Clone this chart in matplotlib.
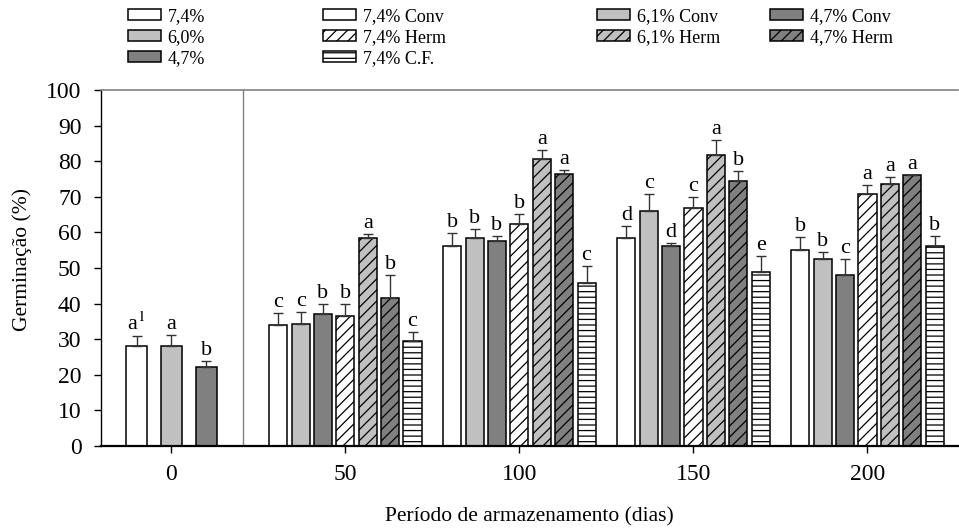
import matplotlib.pyplot as plt
import matplotlib.patches as mpatches
import numpy as np

plt.rcParams['font.family'] = ['Liberation Serif', 'DejaVu Serif']
plt.rcParams['mathtext.fontset'] = 'stix'
plt.rcParams['hatch.linewidth'] = 0.9

# Germinação no início do armazenamento (dia 0)
umid_0 = ['7,4%', '6,0%', '4,7%']
germ_0 = [28.2, 28.0, 22.1]
erro_0 = [2.6, 3.1, 1.8]
letras_0 = ['a$^{1}$', 'a', 'b']

# Períodos de armazenamento e tratamentos
dias = [50, 100, 150, 200]
tratamentos = ['7,4% Conv', '6,1% Conv', '4,7% Conv', '7,4% Herm',
               '6,1% Herm', '4,7% Herm', '7,4% C.F.']

germ_74_conv = [33.9, 56.1, 58.4, 55.1]
germ_61_conv = [34.2, 58.5, 66.1, 52.5]
germ_47_conv = [37.2, 57.5, 56.2, 48.1]
germ_74_herm = [36.4, 62.4, 66.9, 70.9]
germ_61_herm = [58.5, 80.5, 81.7, 73.6]
germ_47_herm = [41.6, 76.5, 74.5, 76.2]
germ_74_cf = [29.5, 45.9, 48.8, 56.1]

erro_74_conv = [3.4, 3.6, 3.3, 3.6]
erro_61_conv = [3.5, 2.5, 4.6, 2.0]
erro_47_conv = [2.6, 1.5, 0.9, 4.4]
erro_74_herm = [3.6, 2.8, 3.0, 2.4]
erro_61_herm = [1.1, 2.6, 4.2, 1.9]
erro_47_herm = [6.3, 1.1, 2.8, 0.0]
erro_74_cf = [2.4, 4.7, 4.5, 3.0]

letras_74_conv = ['c', 'b', 'd', 'b']
letras_61_conv = ['c', 'b', 'c', 'b']
letras_47_conv = ['b', 'b', 'd', 'c']
letras_74_herm = ['b', 'b', 'c', 'a']
letras_61_herm = ['a', 'a', 'a', 'a']
letras_47_herm = ['b', 'a', 'b', 'a']
letras_74_cf = ['c', 'c', 'e', 'b']

germ = [germ_74_conv, germ_61_conv, germ_47_conv, germ_74_herm,
        germ_61_herm, germ_47_herm, germ_74_cf]
erro = [erro_74_conv, erro_61_conv, erro_47_conv, erro_74_herm,
        erro_61_herm, erro_47_herm, erro_74_cf]
letras = [letras_74_conv, letras_61_conv, letras_47_conv, letras_74_herm,
          letras_61_herm, letras_47_herm, letras_74_cf]

# cor de preenchimento e hachura de cada tratamento
estilo = {
    '7,4%': ('white', ''),
    '6,0%': ('#c0c0c0', ''),
    '4,7%': ('#808080', ''),
    '7,4% Conv': ('white', ''),
    '6,1% Conv': ('#c0c0c0', ''),
    '4,7% Conv': ('#808080', ''),
    '7,4% Herm': ('white', '///'),
    '6,1% Herm': ('#c0c0c0', '///'),
    '4,7% Herm': ('#808080', '///'),
    '7,4% C.F.': ('white', '---'),
}

fig = plt.figure(figsize=(9.59, 5.29), dpi=100)
ax = fig.add_axes([101 / 959, 83 / 529, 857 / 959, 356 / 529])


def barras(x, y, e, rotulos, nome, largura):
    cor, hach = estilo[nome]
    x = np.asarray(x, dtype=float)
    y = np.asarray(y, dtype=float)
    e = np.asarray(e, dtype=float)
    ax.bar(x, y, largura, color=cor, edgecolor='black', linewidth=1.1,
           hatch=hach, zorder=2)
    ax.errorbar(x, y, yerr=[np.zeros_like(e), e], fmt='none', ecolor='#333333',
                elinewidth=1, capsize=3.5, capthick=1, zorder=3)
    for xi, yi, ei, r in zip(x, y, e, rotulos):
        ax.text(xi, yi + ei + 1.7, r, ha='center', va='baseline', fontsize=16,
                zorder=4)


# dia 0: três umidades
for i, nome in enumerate(umid_0):
    barras([(i - 1) * 10], [germ_0[i]], [erro_0[i]], [letras_0[i]], nome, 6)

# demais períodos: sete tratamentos por período
passo = 6.43
for i, nome in enumerate(tratamentos):
    xs = [d + (i - 3) * passo for d in dias]
    barras(xs, germ[i], erro[i], letras[i], nome, 5.2)

ax.axvline(20.5, color='#808080', linewidth=1, zorder=1)

ax.set_xlim(-20.2, 226)
ax.set_ylim(0, 100)
ax.set_xticks([0, 50, 100, 150, 200])
ax.set_yticks(np.arange(0, 101, 10))
ax.tick_params(axis='both', direction='out', length=5, width=1, labelsize=17)
ax.tick_params(axis='x', pad=8)
ax.tick_params(axis='y', pad=9)

ax.spines['right'].set_visible(False)
ax.spines['top'].set_color('#808080')
ax.spines['top'].set_linewidth(1.2)
ax.spines['left'].set_linewidth(1)
ax.spines['bottom'].set_linewidth(1.6)

ax.set_ylabel('Germinação (%)', fontsize=15.5, va='center')
ax.yaxis.set_label_coords(-0.092, 0.525)
ax.set_xlabel('Período de armazenamento (dias)', fontsize=15.5, va='center')
ax.xaxis.set_label_coords(0.5, -0.2)

# legenda em quatro colunas posicionadas manualmente
colunas = [
    (128, ['7,4%', '6,0%', '4,7%']),
    (323, ['7,4% Conv', '7,4% Herm', '7,4% C.F.']),
    (597, ['6,1% Conv', '6,1% Herm']),
    (770, ['4,7% Conv', '4,7% Herm']),
]
for x_px, nomes in colunas:
    handles = [mpatches.Patch(facecolor=estilo[n][0], hatch=estilo[n][1],
                              edgecolor='black', linewidth=1.1) for n in nomes]
    fig.legend(handles, nomes, loc='upper left',
               bbox_to_anchor=(x_px / 959, 1 - 8 / 529), frameon=False,
               fontsize=13, handlelength=1.8, handleheight=0.55,
               handletextpad=0.4, labelspacing=0.22, borderpad=0,
               borderaxespad=0)

fig.savefig('out.png', dpi=100)
